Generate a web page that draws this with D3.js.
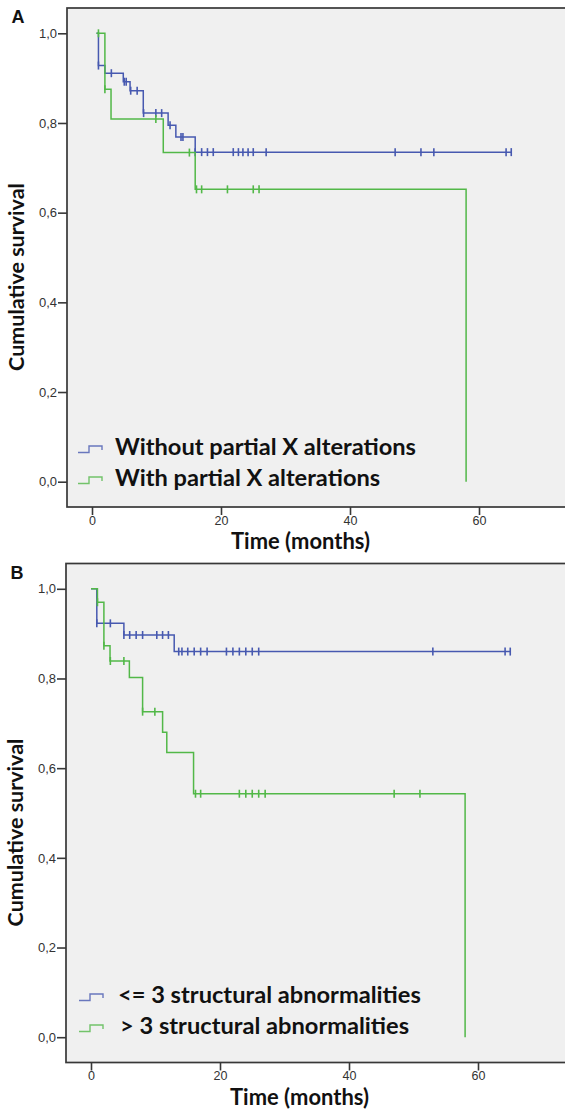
<!DOCTYPE html>
<html>
<head>
<meta charset="utf-8">
<script src="https://cdn.jsdelivr.net/npm/d3@7"></script>
<style>
  body { margin: 0; background: #fff; }
  svg { display: block; }
</style>
</head>
<body>
<div id="chart"></div>
<script>
// ---- data ----
const xTicks = [0, 20, 40, 60];
const yTicks = [0, 0.2, 0.4, 0.6, 0.8, 1.0];

// panel A, without partial X alterations
const eventTimesA1 = [1, 2, 4.85, 5.9, 7.95, 11.8, 13, 16];
const survA1 = [0.928, 0.911, 0.892, 0.872, 0.822, 0.795, 0.769, 0.735];
const censorA1 = [1, 3, 5, 5.3, 6, 7, 8, 9.9, 10.8, 12.1, 13.8, 14.1, 16, 17, 17.9, 18.8,
                  21.9, 22.7, 23.4, 24.2, 25, 27, 47, 51, 53, 64.2, 65];
// panel A, with partial X alterations
const eventTimesA2 = [2, 2.95, 11.05, 16, 58];
const survA2 = [0.875, 0.809, 0.734, 0.652, 0];
const censorA2 = [1, 2, 9.9, 15.1, 16.2, 17, 21, 25, 25.9];

// panel B, <= 3 structural abnormalities
const eventTimesB1 = [0.9, 5.1, 12.9];
const survB1 = [0.923, 0.897, 0.860];
const censorB1 = [0.9, 3, 5.1, 6, 7, 8, 10.2, 11.1, 12, 13.6, 14.1, 15, 16, 17, 18,
                  21, 22, 23, 24, 25, 26, 53, 64.2, 65];
// panel B, > 3 structural abnormalities
const eventTimesB2 = [1, 2, 2.95, 5.95, 8, 11.1, 11.75, 15.9, 58];
const survB2 = [0.970, 0.873, 0.839, 0.802, 0.726, 0.680, 0.635, 0.543, 0];
const censorB2 = [1, 2, 3, 5.1, 8, 9.9, 16.2, 17, 23, 24, 25, 26, 27, 47, 51];

const legendA = ["Without partial X alterations", "With partial X alterations"];
const legendB = ["<= 3 structural abnormalities", "> 3 structural abnormalities"];

const blue = "#4759b0";
const green = "#52b848";

const panels = [
  { label: "A", dy: 0, dx: 0, legend: legendA, legendX: 78, textX: 115,
    series: [
      { color: blue, start: 0.7, end: 65, times: eventTimesA1, surv: survA1, censor: censorA1 },
      { color: green, start: 0.7, end: null, times: eventTimesA2, surv: survA2, censor: censorA2 }
    ] },
  { label: "B", dy: 555.5, dx: -1, legend: legendB, legendX: 80, textX: 119,
    series: [
      { color: blue, start: 0, end: 65, times: eventTimesB1, surv: survB1, censor: censorB1 },
      { color: green, start: 0, end: null, times: eventTimesB2, surv: survB2, censor: censorB2 }
    ] }
];

const width = 565, height = 1109;
const svg = d3.select("#chart").append("svg")
  .attr("width", width).attr("height", height);

const boldFont = "Lato, 'Open Sans', sans-serif";
const tickFont = "'Liberation Sans', Arial, sans-serif";

// scale a text element's font so that it spans the given width
function fitText(sel, target) {
  const w = sel.node().getComputedTextLength();
  const fs = parseFloat(sel.attr("font-size"));
  sel.attr("font-size", (fs * target / w).toFixed(2));
  return fs * target / w;
}

function survAt(s, t) {
  let v = 1;
  s.times.forEach((tt, i) => { if (tt <= t + 1e-9) v = s.surv[i]; });
  return v;
}

panels.forEach(p => {
  const g = svg.append("g").attr("transform", `translate(${p.dx}, ${p.dy})`);

  const x = d3.scaleLinear().domain([0, 60]).range([92, 479]);
  const y = d3.scaleLinear().domain([0, 1]).range([481.7, 33.3]);

  const frameLeft = 67, frameTop = 8, frameBottom = 507;

  g.append("rect")
    .attr("x", frameLeft).attr("y", frameTop)
    .attr("width", width + 10 - frameLeft).attr("height", frameBottom - frameTop)
    .attr("fill", "#f0f0f0")
    .attr("stroke", "#383838").attr("stroke-width", 1.7);

  // y axis
  const yAxis = g.append("g")
    .attr("transform", `translate(${frameLeft}, 0)`)
    .call(d3.axisLeft(y).tickValues(yTicks).tickSize(9).tickSizeOuter(0)
      .tickFormat(d => d3.format(".1f")(d).replace(".", ",")));
  yAxis.select(".domain").remove();
  yAxis.selectAll(".tick line").attr("stroke", "#383838").attr("stroke-width", 1.6);
  yAxis.selectAll(".tick text").attr("font-family", tickFont).attr("font-size", 13)
    .attr("fill", "#333").attr("x", -10);

  // x axis
  const xAxis = g.append("g")
    .attr("transform", `translate(0, ${frameBottom})`)
    .call(d3.axisBottom(x).tickValues(xTicks).tickSize(8).tickSizeOuter(0));
  xAxis.select(".domain").remove();
  xAxis.selectAll(".tick line").attr("stroke", "#383838").attr("stroke-width", 1.6);
  xAxis.selectAll(".tick text").attr("font-family", tickFont).attr("font-size", 12.5)
    .attr("fill", "#333").attr("y", 9);

  // curves
  const line = d3.line().x(d => x(d[0])).y(d => y(d[1])).curve(d3.curveStepAfter);
  p.series.forEach(s => {
    const pts = [[s.start, 1]].concat(s.times.map((t, i) => [t, s.surv[i]]));
    if (s.end != null) pts.push([s.end, s.surv[s.surv.length - 1]]);
    g.append("path").datum(pts)
      .attr("d", line)
      .attr("fill", "none").attr("stroke", s.color).attr("stroke-width", 1.5);

    g.selectAll(null).data(s.censor).enter().append("line")
      .attr("x1", d => x(d)).attr("x2", d => x(d))
      .attr("y1", d => y(survAt(s, d)) - 4).attr("y2", d => y(survAt(s, d)) + 4)
      .attr("stroke", s.color).attr("stroke-width", 1.6);
  });

  // legend
  const base = [455, 486];
  let legendSize = null;
  p.legend.forEach((name, i) => {
    const b = base[i] + (p.label === "B" ? -7.5 : 0);
    const lx = p.legendX;
    g.append("path")
      .attr("d", `M${lx},${b - 2.5}H${lx + 11}V${b - 9}H${lx + 24}V${b - 5}`)
      .attr("fill", "none").attr("stroke", p.series[i].color).attr("stroke-width", 1.4)
      .attr("opacity", 0.8);
    const t = g.append("text")
      .attr("x", p.textX + (i === 1 && p.label === "B" ? 2 : 0)).attr("y", b)
      .attr("font-family", boldFont).attr("font-weight", "bold")
      .attr("font-size", legendSize || 20).attr("fill", "#111")
      .text(name);
    if (i === 0) legendSize = fitText(t, p.label === "A" ? 301 : 303);
  });

  // axis titles
  const tt = g.append("text")
    .attr("x", 300.5).attr("y", 549)
    .attr("text-anchor", "middle")
    .attr("font-family", boldFont).attr("font-weight", "bold")
    .attr("font-size", 20).attr("fill", "#111")
    .text("Time (months)");
  fitText(tt, 139);

  const yt = g.append("text")
    .attr("transform", "translate(23.5, 277) rotate(-90)")
    .attr("text-anchor", "middle")
    .attr("font-family", boldFont).attr("font-weight", "bold")
    .attr("font-size", 20).attr("fill", "#111")
    .text("Cumulative survival");
  fitText(yt, 188);

  g.append("text")
    .attr("x", 11.5).attr("y", 23)
    .attr("font-family", tickFont).attr("font-weight", "bold")
    .attr("font-size", 18).attr("fill", "#111")
    .text(p.label);
});
</script>
</body>
</html>
